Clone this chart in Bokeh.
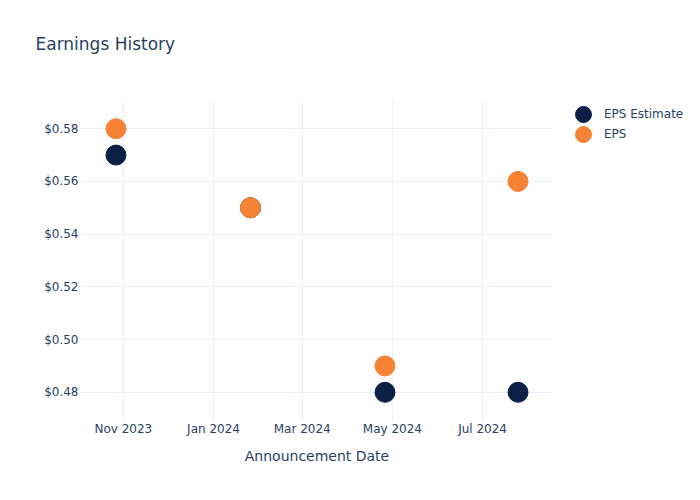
import datetime as dt
from bokeh.plotting import figure
from bokeh.models import (ColumnDataSource, FixedTicker, NumeralTickFormatter,
                          DatetimeTickFormatter, Legend, LegendItem, Range1d, Title)
from bokeh.embed import file_html
from bokeh.resources import INLINE

# ---- data ----
dates = ["2023-10-27", "2024-01-26", "2024-04-26", "2024-07-25"]
eps_estimate = [0.57, 0.55, 0.48, 0.48]
eps_actual = [0.58, 0.55, 0.49, 0.56]
x_tick_dates = ["2023-11-01", "2024-01-01", "2024-03-01", "2024-05-01", "2024-07-01"]
y_ticks = [0.48, 0.50, 0.52, 0.54, 0.56, 0.58]

def to_dt(s):
    return dt.datetime.strptime(s, "%Y-%m-%d")

def to_ms(s):
    return (to_dt(s) - dt.datetime(1970, 1, 1)).total_seconds() * 1000.0

src = ColumnDataSource(dict(x=[to_dt(d) for d in dates], est=eps_estimate, eps=eps_actual))

FONT = "DejaVu Sans"
TXT = "#2a3f5f"
GRID = "#ebf0f8"
NAVY = "#0c1f44"
ORANGE = "#f68235"

p = figure(frame_width=473, frame_height=320, x_axis_type="datetime", output_backend="svg",
           toolbar_location=None, min_border_left=80, min_border_right=147,
           min_border_top=100, min_border_bottom=80,
           x_range=Range1d(to_ms("2023-10-03"), to_ms("2024-08-18")),
           y_range=Range1d(0.4693, 0.5907))
p.outline_line_color = None
p.background_fill_color = "white"
p.border_fill_color = "white"
p.title.text = ""

# spacer (nearest the frame), then the visible title above it
p.add_layout(Title(text=" ", text_font_size="1px", standoff=44), "above")
p.add_layout(Title(text="Earnings History", text_font=FONT, text_font_size="17px",
                   text_font_style="normal", text_color=TXT, offset=-45,
                   standoff=0), "above")

# legend proxies (hidden under the markers), drawn at legend size
l1 = p.ellipse("x", "est", source=src, width=16, height=16, width_units="screen",
               height_units="screen", color=NAVY)
l2 = p.ellipse("x", "eps", source=src, width=16, height=16, width_units="screen",
               height_units="screen", color=ORANGE)

r1 = p.scatter("x", "est", source=src, size=20, color=NAVY, line_color=NAVY)
r2 = p.scatter("x", "eps", source=src, size=20, color=ORANGE, line_color=ORANGE)

p.xaxis.ticker = FixedTicker(ticks=[to_ms(d) for d in x_tick_dates])
p.xaxis.formatter = DatetimeTickFormatter(days="%b %Y", months="%b %Y", years="%b %Y")
p.yaxis.ticker = FixedTicker(ticks=y_ticks)
p.yaxis.formatter = NumeralTickFormatter(format="$0.00")

for ax in (p.xaxis, p.yaxis):
    ax.axis_line_color = None
    ax.major_tick_line_color = None
    ax.minor_tick_line_color = None
    ax.major_tick_out = 0
    ax.major_tick_in = 0
    ax.minor_tick_out = 0
    ax.major_label_text_font = FONT
    ax.major_label_text_font_size = "12px"
    ax.major_label_text_color = TXT
    ax.axis_label_text_font = FONT
    ax.axis_label_text_color = TXT
    ax.axis_label_text_font_style = "normal"

p.xaxis.axis_label = "Announcement Date"
p.xaxis.axis_label_text_font_size = "14px"
p.xaxis.major_label_standoff = 1
p.xaxis.axis_label_standoff = 9
p.yaxis.major_label_standoff = 2

p.xgrid.grid_line_color = GRID
p.ygrid.grid_line_color = GRID
p.xgrid.grid_line_width = 1
p.ygrid.grid_line_width = 1

legend = Legend(items=[LegendItem(label="EPS Estimate", renderers=[l1]),
                       LegendItem(label="EPS", renderers=[l2])],
                location=(20, 276), border_line_color=None,
                background_fill_alpha=0, label_text_font=FONT,
                label_text_font_size="12px", label_text_color=TXT,
                glyph_width=20, glyph_height=20, spacing=-1, padding=0,
                margin=0, label_standoff=11, label_height=19)
p.add_layout(legend, "right")

open("out.html", "w").write(file_html(p, INLINE))
